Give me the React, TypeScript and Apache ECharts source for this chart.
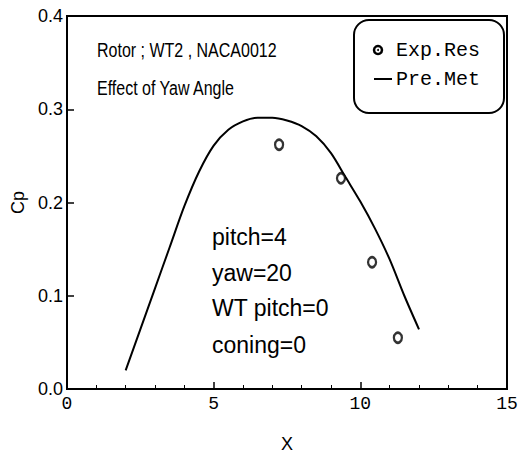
import React, { useEffect, useRef } from "react";
import * as echarts from "echarts";

const curveX = [2, 2.5, 3, 3.5, 4, 4.5, 5, 5.5, 6, 6.5, 7, 7.5, 8, 8.5, 9, 9.5, 10, 10.5, 11, 11.5, 12];
const curveCp = [0.02, 0.064, 0.108, 0.152, 0.196, 0.233, 0.261, 0.278, 0.287, 0.291, 0.291, 0.288, 0.282, 0.271, 0.253, 0.227, 0.201, 0.172, 0.139, 0.1, 0.064];
const expX = [7.23, 9.34, 10.4, 11.28];
const expCp = [0.262, 0.226, 0.136, 0.055];
const seriesNames = ["Exp.Res", "Pre.Met"];
const titleLines = ["Rotor ; WT2 , NACA0012", "Effect of Yaw Angle"];
const paramLines = ["pitch=4", "yaw=20", "WT pitch=0", "coning=0"];

const SANS = "'Liberation Sans', Arial, sans-serif";
const MONO = "'Liberation Mono', 'DejaVu Sans Mono', monospace";

export default function App() {
  const ref = useRef<HTMLDivElement>(null);
  useEffect(() => {
    document.body.style.margin = "0";
    const chart = echarts.init(ref.current!, null, { renderer: "svg" });
    const option: any = {
      animation: false,
      backgroundColor: "#fff",
      grid: {
        left: 67,
        right: 23,
        top: 16,
        bottom: 64,
        show: true,
        borderColor: "#000",
        borderWidth: 2,
      },
      xAxis: {
        type: "value",
        min: 0,
        max: 15,
        interval: 5,
        name: "X",
        nameLocation: "middle",
        nameGap: 46,
        nameTextStyle: { fontFamily: SANS, fontSize: 18, color: "#000" },
        axisLine: { lineStyle: { color: "#000", width: 2 } },
        axisTick: { inside: true, length: 7, lineStyle: { color: "#000", width: 1.5 } },
        minorTick: { show: true, splitNumber: 5, length: 4, lineStyle: { color: "#000", width: 1 } },
        axisLabel: { margin: 6, fontFamily: MONO, fontSize: 18, color: "#000" },
        splitLine: { show: false },
      },
      yAxis: {
        type: "value",
        min: 0,
        max: 0.4,
        interval: 0.1,
        name: "Cp",
        nameLocation: "middle",
        nameRotate: 90,
        nameGap: 40,
        nameTextStyle: { fontFamily: SANS, fontSize: 18, color: "#000" },
        axisLine: { lineStyle: { color: "#000", width: 2 } },
        axisTick: { inside: true, length: 7, lineStyle: { color: "#000", width: 1.5 } },
        axisLabel: {
          margin: 4,
          fontFamily: SANS,
          fontSize: 18,
          color: "#000",
          formatter: (v: number) => v.toFixed(1),
        },
        splitLine: { show: false },
      },
      series: [
        {
          name: seriesNames[1],
          type: "line",
          smooth: 0.3,
          symbol: "none",
          lineStyle: { color: "#000", width: 2 },
          data: curveX.map((x, i) => [x, curveCp[i]]),
          z: 2,
        },
        {
          name: seriesNames[0],
          type: "scatter",
          symbol: "circle",
          symbolSize: [8, 10],
          itemStyle: { color: "#fff", borderColor: "#000", borderWidth: 2.5 },
          data: expX.map((x, i) => [x, expCp[i]]),
          z: 3,
        },
      ],
      graphic: [
        ...titleLines.map((t, i) => ({
          type: "text",
          x: 97,
          y: [50, 88][i],
          scaleX: 0.8,
          style: { text: t, font: `20px ${SANS}`, fill: "#000", verticalAlign: "middle" },
        })),
        ...paramLines.map((t, i) => ({
          type: "text",
          x: 212,
          y: [237, 273, 308, 345][i],
          style: { text: t, font: `23px ${SANS}`, fill: "#000", verticalAlign: "middle" },
        })),
        {
          type: "group",
          x: 354,
          y: 20,
          children: [
            {
              type: "rect",
              shape: { x: 0, y: 0, width: 150, height: 93, r: 15 },
              style: { fill: "#fff", stroke: "#000", lineWidth: 2 },
            },
            {
              type: "circle",
              shape: { cx: 24, cy: 30, r: 4 },
              style: { fill: "#fff", stroke: "#000", lineWidth: 2.5 },
            },
            {
              type: "circle",
              shape: { cx: 24, cy: 30, r: 1 },
              style: { fill: "#000" },
            },
            {
              type: "text",
              x: 42,
              y: 30,
              style: { text: seriesNames[0], font: `20px ${MONO}`, fill: "#000", verticalAlign: "middle" },
            },
            {
              type: "line",
              shape: { x1: 20, y1: 59, x2: 38, y2: 59 },
              style: { stroke: "#000", lineWidth: 2 },
            },
            {
              type: "text",
              x: 42,
              y: 59,
              style: { text: seriesNames[1], font: `20px ${MONO}`, fill: "#000", verticalAlign: "middle" },
            },
          ],
        },
      ],
    };
    chart.setOption(option);
    return () => chart.dispose();
  }, []);
  return <div ref={ref} style={{ width: 530, height: 458 }} />;
}
